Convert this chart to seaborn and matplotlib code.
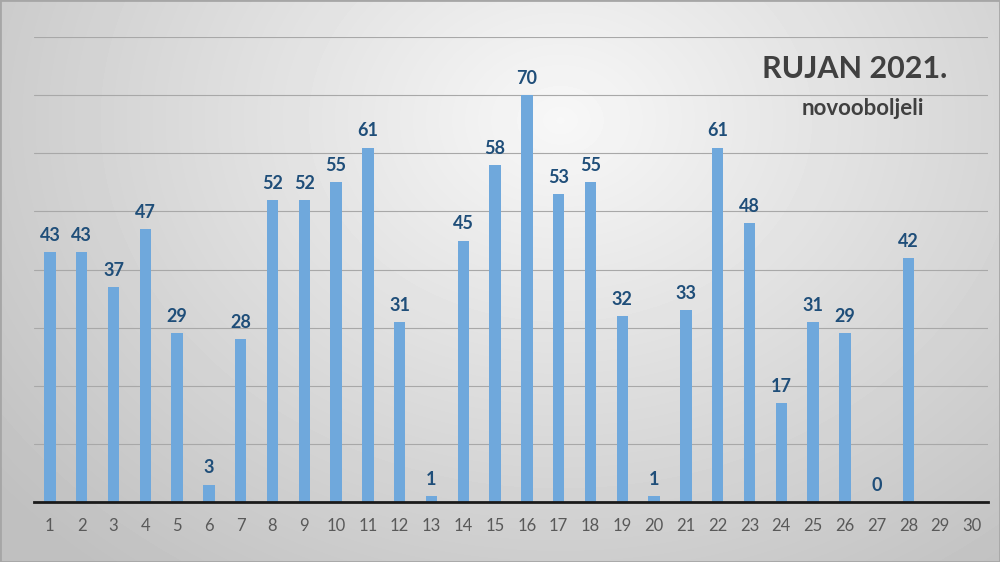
import numpy as np
import pandas as pd
import matplotlib
matplotlib.use("Agg")
import matplotlib.pyplot as plt
import seaborn as sns

# daily new cases, September 2021 (days 29 and 30 have no data)
days = [str(d) for d in range(1, 31)]
cases = [43, 43, 37, 47, 29, 3, 28, 52, 52, 55, 61, 31, 1, 45, 58,
         70, 53, 55, 32, 1, 33, 61, 48, 17, 31, 29, 0, 42, np.nan, np.nan]
title = "RUJAN 2021."
subtitle = "novooboljeli"

sns.set_style("white")
plt.rcParams['font.family'] = ['Lato', 'DejaVu Sans']

df = pd.DataFrame({'day': days, 'cases': cases})

fig = plt.figure(figsize=(10, 5.62), dpi=100)

# grey radial background like the slide
bg = fig.add_axes([0, 0, 1, 1], zorder=0)
yy, xx = np.mgrid[0:562, 0:1000]
r = np.sqrt(((xx - 560) / 700.0) ** 2 + ((yy - 120) / 560.0) ** 2)
shade = np.clip(0.97 - 0.21 * r, 0.75, 0.97)
bg.imshow(shade, cmap='gray', vmin=0, vmax=1, aspect='auto', extent=[0, 1, 0, 1])
bg.set_axis_off()

ax = fig.add_axes([0.034, 0.1068, 0.954, 0.827], zorder=1)
ax.patch.set_alpha(0)

sns.barplot(data=df, x='day', y='cases', order=days, color='#6fa8dc',
            saturation=1, width=0.36, linewidth=0, ax=ax, zorder=3)

for c in ax.containers:
    ax.bar_label(c, fmt='%d', padding=6, fontsize=13, fontweight='bold',
                 color='#1f4e79')

ax.set_ylim(0, 80)
ax.set_xlim(-0.5, 29.5)
ax.set_yticks(range(0, 81, 10))
ax.yaxis.grid(True, color='#a8a8a8', linewidth=0.8)
ax.set_axisbelow(True)
ax.tick_params(axis='y', left=False, labelleft=False)
ax.tick_params(axis='x', bottom=False, labelsize=12, labelcolor='#595959', pad=8)
ax.set_xlabel('')
ax.set_ylabel('')
for s in ['top', 'right', 'left']:
    ax.spines[s].set_visible(False)
ax.spines['bottom'].set_color('#1a1a1a')
ax.spines['bottom'].set_linewidth(2)
ax.spines['bottom'].set_zorder(4)

fig.text(0.855, 0.878, title, ha='center', va='center', fontsize=22,
         fontweight='bold', color='#404040')
fig.text(0.863, 0.807, subtitle, ha='center', va='center', fontsize=16,
         fontweight='bold', color='#404040')

# thin frame around the slide
frame = plt.Rectangle((0, 0), 1, 1, transform=fig.transFigure, fill=False,
                      edgecolor='#a6a6a6', linewidth=2, zorder=5)
fig.patches.append(frame)

fig.savefig('out.png', dpi=100)
